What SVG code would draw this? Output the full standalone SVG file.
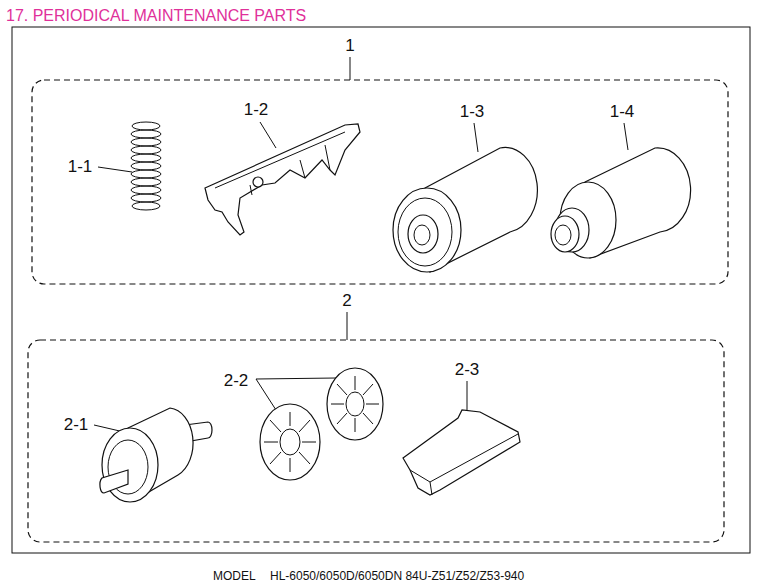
<svg xmlns="http://www.w3.org/2000/svg" width="760" height="588" viewBox="0 0 760 588">
<style>
text{font-family:"Liberation Sans",Arial,sans-serif;fill:#111}
.lbl{font-size:17px}
.p{fill:#fff;stroke:#111;stroke-width:1.2}
.l{fill:none;stroke:#111;stroke-width:1}
.d{fill:none;stroke:#111;stroke-width:1.2;stroke-dasharray:6 4}
</style>
<rect width="760" height="588" fill="#fff"/>
<text x="6" y="21" style="font-size:16px;fill:#e0309a">17. PERIODICAL MAINTENANCE PARTS</text>
<rect x="12" y="27" width="738" height="526" class="l" stroke-width="1.5"/>
<g id="group1">
<rect x="32" y="80" width="696" height="204" rx="12" class="d"/>
<text x="350" y="51" class="lbl" text-anchor="middle">1</text>
<line x1="350" y1="57" x2="350" y2="80" class="l"/>
</g>
<g id="group2">
<rect x="28" y="340" width="696" height="202" rx="12" class="d"/>
<text x="347" y="306" class="lbl" text-anchor="middle">2</text>
<line x1="347" y1="312" x2="347" y2="340" class="l"/>
</g>
<g id="p1-1">
<text x="80" y="172" class="lbl" text-anchor="middle">1-1</text>
<line x1="98" y1="167" x2="132" y2="172" class="l"/>
<g class="l">
<ellipse cx="146" cy="126" rx="14" ry="4"/><ellipse cx="146" cy="134" rx="15" ry="4"/><ellipse cx="146" cy="142" rx="15" ry="4"/><ellipse cx="146" cy="150" rx="15" ry="4"/><ellipse cx="146" cy="158" rx="15" ry="4"/><ellipse cx="146" cy="166" rx="15" ry="4"/><ellipse cx="146" cy="174" rx="15" ry="4"/><ellipse cx="146" cy="182" rx="15" ry="4"/><ellipse cx="146" cy="190" rx="15" ry="4"/><ellipse cx="146" cy="198" rx="15" ry="4"/><ellipse cx="146" cy="206" rx="14" ry="4"/>
</g>
</g>
<g id="p1-2">
<text x="256" y="115" class="lbl" text-anchor="middle">1-2</text>
<line x1="260" y1="122" x2="276" y2="148" class="l"/>
<path class="p" d="M205,188 L345,125 L358,124 L360,132 L345,150 L335,175 L330,170 L322,160 L305,178 L290,170 L275,183 L262,185 L240,198 L238,215 L244,232 L240,235 L228,222 L222,212 L215,210 L208,200 Z"/>
<path class="l" d="M215,188 L345,132 M250,185 L252,195 M300,160 L305,178 M325,145 L330,170"/>
<circle cx="258" cy="182" r="5" class="p"/>
</g>
<g id="p1-3">
<text x="472" y="117" class="lbl" text-anchor="middle">1-3</text>
<line x1="474" y1="123" x2="478" y2="152" class="l"/>
<path class="p" d="M425,188 L500,148 A32,42 0 0 1 510,232 L430,272 Z"/>
<ellipse cx="427" cy="230" rx="34" ry="42" class="p"/>
<ellipse cx="425" cy="232" rx="27" ry="34" class="l"/>
<ellipse cx="423" cy="234" rx="15" ry="19" class="p"/>
<ellipse cx="422" cy="235" rx="8" ry="10" class="l"/>
</g>
<g id="p1-4">
<text x="622" y="117" class="lbl" text-anchor="middle">1-4</text>
<line x1="624" y1="123" x2="628" y2="150" class="l"/>
<path class="p" d="M585,182 L655,148 A33,42 0 0 1 660,232 L590,258 Z"/>
<ellipse cx="588" cy="220" rx="28" ry="38" class="p"/>
<ellipse cx="572" cy="230" rx="17" ry="22" class="p"/>
<ellipse cx="565" cy="234" rx="14" ry="18" class="p"/>
<ellipse cx="563" cy="235" rx="8" ry="10" class="l"/>
</g>
<g id="p2-1">
<text x="76" y="430" class="lbl" text-anchor="middle">2-1</text>
<line x1="94" y1="425" x2="124" y2="432" class="l"/>
<path class="p" d="M185,425 L208,422 A4,8 0 0 1 208,438 L185,442 Z"/>
<path class="p" d="M128,428 L170,408 A25,35 0 0 1 178,475 L135,500 Z"/>
<ellipse cx="130" cy="465" rx="28" ry="37" class="p"/>
<ellipse cx="128" cy="467" rx="20" ry="27" class="l"/>
<path class="p" d="M128,470 L102,478 A4,8 0 0 0 104,493 L128,484 Z"/>
</g>
<g id="p2-2">
<text x="236" y="386" class="lbl" text-anchor="middle">2-2</text>
<line x1="256" y1="379" x2="276" y2="410" class="l"/>
<line x1="256" y1="379" x2="336" y2="378" class="l"/>
<ellipse cx="290" cy="442" rx="30" ry="38" class="p"/>
<ellipse cx="290" cy="442" rx="10" ry="13" class="l"/>
<path class="l" d="M290,412 V426 M290,458 V472 M264,442 H278 M302,442 H316 M270,420 L281,432 M299,452 L310,464 M310,420 L299,432 M281,452 L270,464"/>
<ellipse cx="355" cy="404" rx="28" ry="36" class="p"/>
<ellipse cx="355" cy="404" rx="9" ry="12" class="l"/>
<path class="l" d="M355,376 V390 M355,418 V432 M331,404 H344 M366,404 H379 M337,384 L347,395 M363,413 L373,424 M373,384 L363,395 M347,413 L337,424"/>
</g>
<g id="p2-3">
<text x="467" y="375" class="lbl" text-anchor="middle">2-3</text>
<line x1="467" y1="381" x2="467" y2="413" class="l"/>
<path class="p" d="M403,458 L458,418 L462,410 L480,412 L518,432 L520,442 L440,490 L430,495 L418,488 L410,470 Z"/>
<path class="l" d="M410,470 L430,482 L518,434 M430,482 L432,495"/>
</g>
<text x="213" y="580" style="font-size:12px">MODEL</text>
<text x="270" y="580" style="font-size:12px">HL-6050/6050D/6050DN 84U-Z51/Z52/Z53-940</text>
</svg>
